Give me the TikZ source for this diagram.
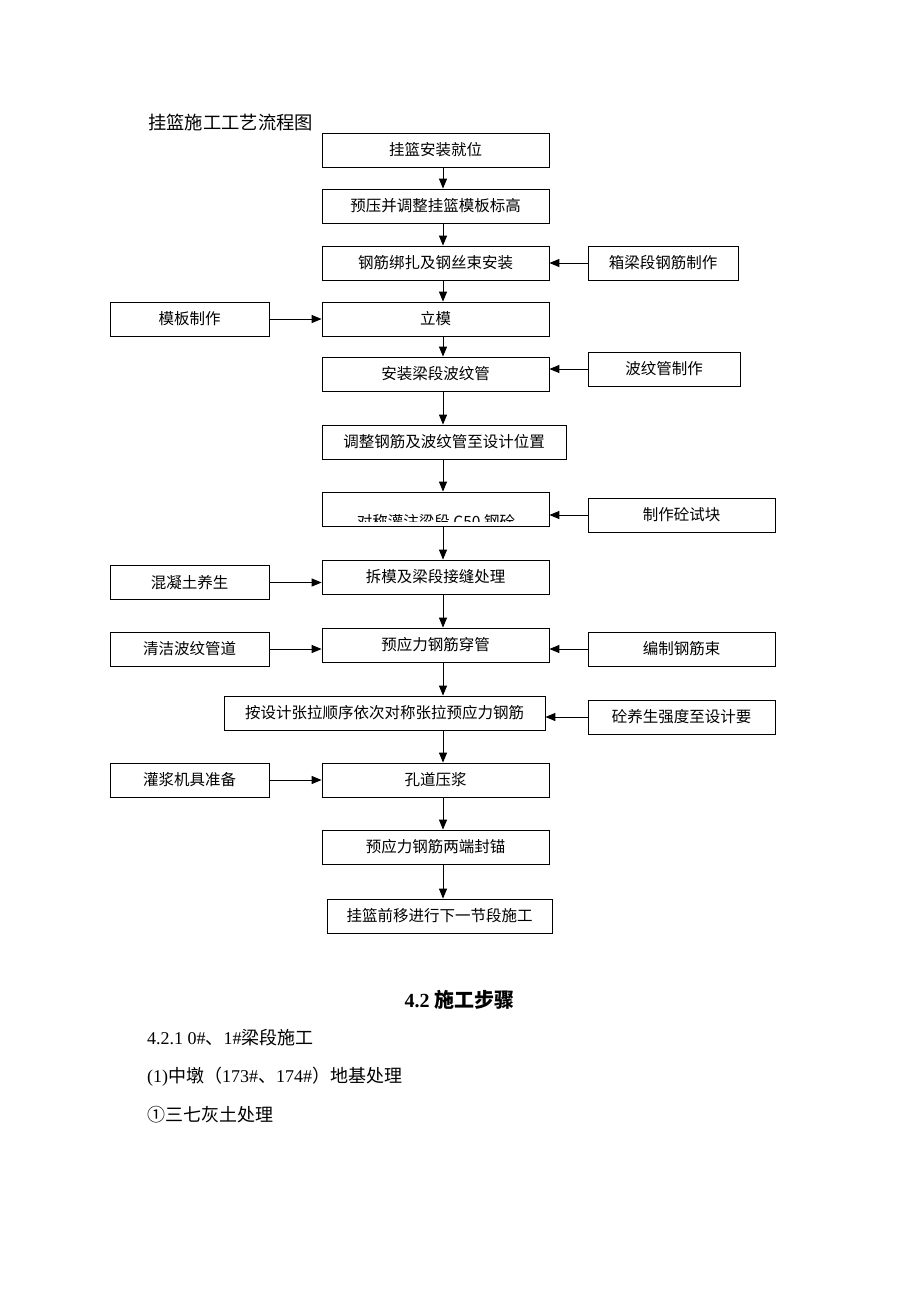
\documentclass[tikz,border=0pt]{standalone}
\usepackage{fontspec}
\setmainfont{Liberation Serif}
\newfontfamily\cjk{Noto Sans CJK SC}
\usetikzlibrary{arrows.meta}

\begin{document}
\begin{tikzpicture}[x=1pt, y=-1pt,
    box/.style={draw, line width=0.8pt, minimum height=34pt, inner sep=0pt,
        font=\cjk\fontsize{15.5}{18}\selectfont},
    flow/.style={-{Triangle[length=10pt, width=8pt]}, line width=1pt},
    body/.style={anchor=west, inner sep=0pt, font=\fontsize{18}{22}\selectfont}]
    \useasboundingbox (0,0) rectangle (920,1302);

    % 标题
    \node[anchor=west, inner sep=0pt, font=\cjk\fontsize{18.3}{21}\selectfont] (title) at (148,122) {挂篮施工工艺流程图};

    % 主线工序
    \node[box, minimum width=227pt] (hang_install) at (435.5,150) {挂篮安装就位};
    \node[box, minimum width=227pt] (preload) at (435.5,206) {预压并调整挂篮模板标高};
    \node[box, minimum width=227pt] (rebar_bind) at (435.5,263) {钢筋绑扎及钢丝束安装};
    \node[box, minimum width=227pt] (formwork) at (435.5,319) {立模};
    \node[box, minimum width=227pt] (duct_install) at (435.5,374) {安装梁段波纹管};
    \node[box, minimum width=244pt] (adjust_pos) at (444,442) {调整钢筋及波纹管至设计位置};
    \node[box, minimum width=227pt] (pour) at (435.5,509) {};
    \node[box, minimum width=227pt] (demold) at (435.5,577) {拆模及梁段接缝处理};
    \node[box, minimum width=227pt] (thread) at (435.5,645) {预应力钢筋穿管};
    \node[box, minimum width=321pt] (tension) at (384.5,713) {按设计张拉顺序依次对称张拉预应力钢筋};
    \node[box, minimum width=227pt] (grout) at (435.5,780) {孔道压浆};
    \node[box, minimum width=227pt] (anchor_seal) at (435.5,847) {预应力钢筋两端封锚};
    \node[box, minimum width=225pt] (move_on) at (439.5,916) {挂篮前移进行下一节段施工};

    % 浇注框内的文字被框底截断
    \begin{scope}
        \clip (pour.north west) rectangle ([yshift=5pt]pour.south east);
        \node[font=\cjk\fontsize{15.5}{18}\selectfont, inner sep=0pt] (pour_text) at (436,522) {对称灌注梁段 C50 钢砼};
    \end{scope}

    % 左侧准备工作
    \node[box, minimum width=159pt] (form_make) at (189.5,319) {模板制作};
    \node[box, minimum width=159pt] (cure) at (189.5,582.5) {混凝土养生};
    \node[box, minimum width=159pt] (duct_clean) at (189.5,649) {清洁波纹管道};
    \node[box, minimum width=159pt] (grout_prep) at (189.5,780) {灌浆机具准备};

    % 右侧准备工作
    \node[box, minimum width=150pt] (rebar_make) at (663,263) {箱梁段钢筋制作};
    \node[box, minimum width=152pt] (duct_make) at (664,369) {波纹管制作};
    \node[box, minimum width=187pt] (cube_make) at (681.5,515) {制作砼试块};
    \node[box, minimum width=187pt] (strand_make) at (681.5,649) {编制钢筋束};
    \node[box, minimum width=187pt] (strength) at (681.5,717) {砼养生强度至设计要};

    % 主线竖向箭头
    \coordinate (spine) at (443,0);
    \draw[flow] (hang_install.south -| spine) -- (preload.north -| spine);
    \draw[flow] (preload.south -| spine) -- (rebar_bind.north -| spine);
    \draw[flow] (rebar_bind.south -| spine) -- (formwork.north -| spine);
    \draw[flow] (formwork.south -| spine) -- (duct_install.north -| spine);
    \draw[flow] (duct_install.south -| spine) -- (adjust_pos.north -| spine);
    \draw[flow] (adjust_pos.south -| spine) -- (pour.north -| spine);
    \draw[flow] (pour.south -| spine) -- (demold.north -| spine);
    \draw[flow] (demold.south -| spine) -- (thread.north -| spine);
    \draw[flow] (thread.south -| spine) -- (tension.north -| spine);
    \draw[flow] (tension.south -| spine) -- (grout.north -| spine);
    \draw[flow] (grout.south -| spine) -- (anchor_seal.north -| spine);
    \draw[flow] (anchor_seal.south -| spine) -- (move_on.north -| spine);

    % 左侧横向箭头
    \draw[flow] (form_make.east) -- (form_make.east -| formwork.west);
    \draw[flow] (cure.east) -- (cure.east -| demold.west);
    \draw[flow] (duct_clean.east) -- (duct_clean.east -| thread.west);
    \draw[flow] (grout_prep.east) -- (grout_prep.east -| grout.west);

    % 右侧横向箭头
    \draw[flow] (rebar_make.west) -- (rebar_make.west -| rebar_bind.east);
    \draw[flow] (duct_make.west) -- (duct_make.west -| duct_install.east);
    \draw[flow] (cube_make.west) -- (cube_make.west -| pour.east);
    \draw[flow] (strand_make.west) -- (strand_make.west -| thread.east);
    \draw[flow] (strength.west) -- (strength.west -| tension.east);

    % 正文
    \node[font=\bfseries\fontsize{20}{24}\selectfont, inner sep=0pt] (heading) at (459.5,1000) {4.2 {\cjk 施工步骤}};
    \node[body] (sec_421) at (147,1038) {4.2.1 0\#{\cjk 、}1\#{\cjk 梁段施工}};
    \node[body] (item_1) at (147,1077) {(1){\cjk 中墩（}173\#{\cjk 、}174\#{\cjk ）地基处理}};
    \node[body, font=\cjk\fontsize{18}{22}\selectfont] (item_c1) at (147,1115) {①三七灰土处理};
\end{tikzpicture}
\end{document}
